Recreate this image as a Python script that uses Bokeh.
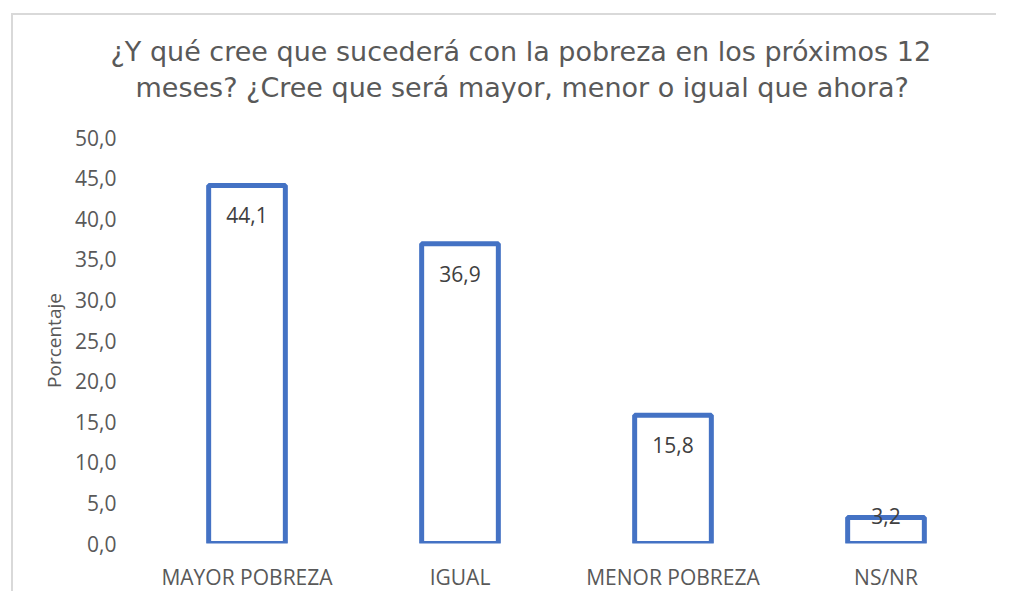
from bokeh.plotting import figure
from bokeh.models import ColumnDataSource, CustomJSTickFormatter, FixedTicker, Range1d, Title
from bokeh.core.properties import value
from bokeh.embed import file_html
from bokeh.resources import INLINE

categories = ["MAYOR POBREZA", "IGUAL", "MENOR POBREZA", "NS/NR"]
values = [44.1, 36.9, 15.8, 3.2]
labels = ["44,1", "36,9", "15,8", "3,2"]
y_ticks = [0, 5, 10, 15, 20, 25, 30, 35, 40, 45, 50]
title_lines = ["¿Y qué cree que sucederá con la pobreza en los próximos 12",
               "meses?  ¿Cree que será mayor, menor o igual que ahora?"]

label_offsets = [30 if v > 8 else -2 for v in values]

src = ColumnDataSource(dict(cat=categories, val=values, lab=labels, off=label_offsets))

FONT = "Open Sans"
TFONT = "DejaVu Sans"
GRAY = "#595959"

p = figure(x_range=categories, y_range=Range1d(0, 50), width=985, height=578,
           output_backend="svg", toolbar_location=None,
           min_border_left=127, min_border_right=6, min_border_top=122, min_border_bottom=49)
p.styles = {"margin-left": "11px", "margin-top": "13px",
            "border-left": "2px solid #D9D9D9", "border-top": "2px solid #D9D9D9"}

# title lines (left aligned with pixel offsets so both are centred on the chart box);
# the line nearest the plot area is added first
for line, off, standoff in [(title_lines[1], -5, 70), (title_lines[0], -30, -64)]:
    p.add_layout(Title(text=line, align="left", offset=off, standoff=standoff,
                       text_font=TFONT, text_font_size="27px", text_font_style="normal",
                       text_color=GRAY), "above")

p.vbar(x="cat", top="val", width=0.36, source=src, fill_color=None,
       line_color="#4472C4", line_width=5)

p.text(x="cat", y="val", text="lab", source=src, y_offset="off",
       text_align="center", text_baseline="middle", text_font_size="21px",
       text_color="#404040", text_font=value(FONT))

p.outline_line_color = None
p.xgrid.grid_line_color = None
p.ygrid.grid_line_color = None

p.yaxis.ticker = FixedTicker(ticks=y_ticks)
p.yaxis.formatter = CustomJSTickFormatter(code="return tick.toFixed(1).replace('.', ',');")
for ax in (p.xaxis[0], p.yaxis[0]):
    ax.axis_line_color = None
    ax.major_tick_line_color = None
    ax.minor_tick_line_color = None
    ax.major_tick_out = 0
    ax.major_tick_in = 0
    ax.minor_tick_out = 0
    ax.minor_tick_in = 0
    ax.major_label_text_font = FONT
    ax.major_label_text_font_size = "21px"
    ax.major_label_text_color = GRAY
p.yaxis.major_label_standoff = 24
p.xaxis.major_label_standoff = 19
p.yaxis.axis_label = "Porcentaje"
p.yaxis.axis_label_text_font = FONT
p.yaxis.axis_label_text_font_size = "19px"
p.yaxis.axis_label_text_font_style = "normal"
p.yaxis.axis_label_text_color = GRAY
p.yaxis.axis_label_standoff = 5

open("out.html", "w").write(file_html(p, INLINE))
